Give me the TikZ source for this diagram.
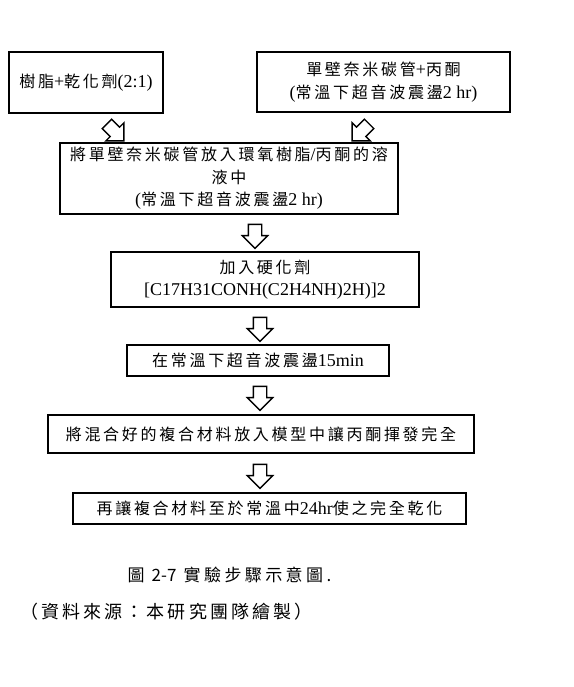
\documentclass[tikz,border=0pt]{standalone}
\usepackage{fontspec}
\setmainfont{Liberation Serif}
\newfontfamily\zhfont[LetterSpace=17]{Noto Sans CJK TC}
\newfontfamily\capfont[LetterSpace=20]{Noto Sans CJK TC}
\newfontfamily\srcfont[LetterSpace=17]{Noto Sans CJK TC}
\usetikzlibrary{shapes.arrows}
\newcommand{\zh}[1]{{\zhfont\fontsize{16}{22.5}\selectfont #1}}

\begin{document}
\begin{tikzpicture}[
    x=1pt, y=-1pt,
    box/.style={draw, line width=1.6pt, inner sep=0pt, align=center},
    flow/.style={draw, line width=1.4pt, single arrow, single arrow head extend=6pt,
      inner xsep=0pt, inner ysep=6pt, minimum height=24pt},
    every node/.style={font=\fontsize{18}{22.5}\selectfont}
  ]
  \useasboundingbox (0,0) rectangle (573,687);
  \node[box, minimum width=154pt, minimum height=61pt] (resin) at (86,82.5) {\zh{樹脂}+\zh{乾化劑}(2:1)};
  \node[box, minimum width=253pt, minimum height=60pt] (swnt) at (383.5,82) {\zh{單壁奈米碳管}+\zh{丙酮}\\(\zh{常溫下超音波震盪}2 hr)};
  \node[box, minimum width=338pt, minimum height=71pt] (mix) at (229,178.5) {\zh{將單壁奈米碳管放入環氧樹脂}/\zh{丙酮的溶}\\\zh{液中}\\(\zh{常溫下超音波震盪}2 hr)};
  \node[box, minimum width=308pt, minimum height=55pt] (hard) at (265,279.5) {\zh{加入硬化劑}\\{[}C17H31CONH(C2H4NH)2H)]2};
  \node[box, minimum width=262pt, minimum height=31pt] (sonic) at (258,360.5) {\zh{在常溫下超音波震盪}15min};
  \node[box, minimum width=426pt, minimum height=38pt] (mold) at (261,434) {\zh{將混合好的複合材料放入模型中讓丙酮揮發完全}};
  \node[box, minimum width=393pt, minimum height=31pt] (cure) at (269.5,508.5) {\zh{再讓複合材料至於常溫中}24hr\zh{使之完全乾化}};

  \node[flow, rotate=-45] (a1) at (113,130) {};
  \node[flow, rotate=-135] (a2) at (363,130) {};
  \node[flow, rotate=-90] (a3) at (255,233) {};
  \node[flow, rotate=-90] (a4) at (260,326) {};
  \node[flow, rotate=-90] (a5) at (260,395) {};
  \node[flow, rotate=-90] (a6) at (260,473) {};

  \node[anchor=west, font=\capfont\fontsize{17}{20}\selectfont] (cap) at (124,575) {圖 {\addfontfeature{LetterSpace=0}2-7} 實驗步驟示意圖.};
  \node[anchor=west, font=\srcfont\fontsize{18}{20}\selectfont] (src) at (17,612) {（資料來源：本研究團隊繪製）};
\end{tikzpicture}
\end{document}
